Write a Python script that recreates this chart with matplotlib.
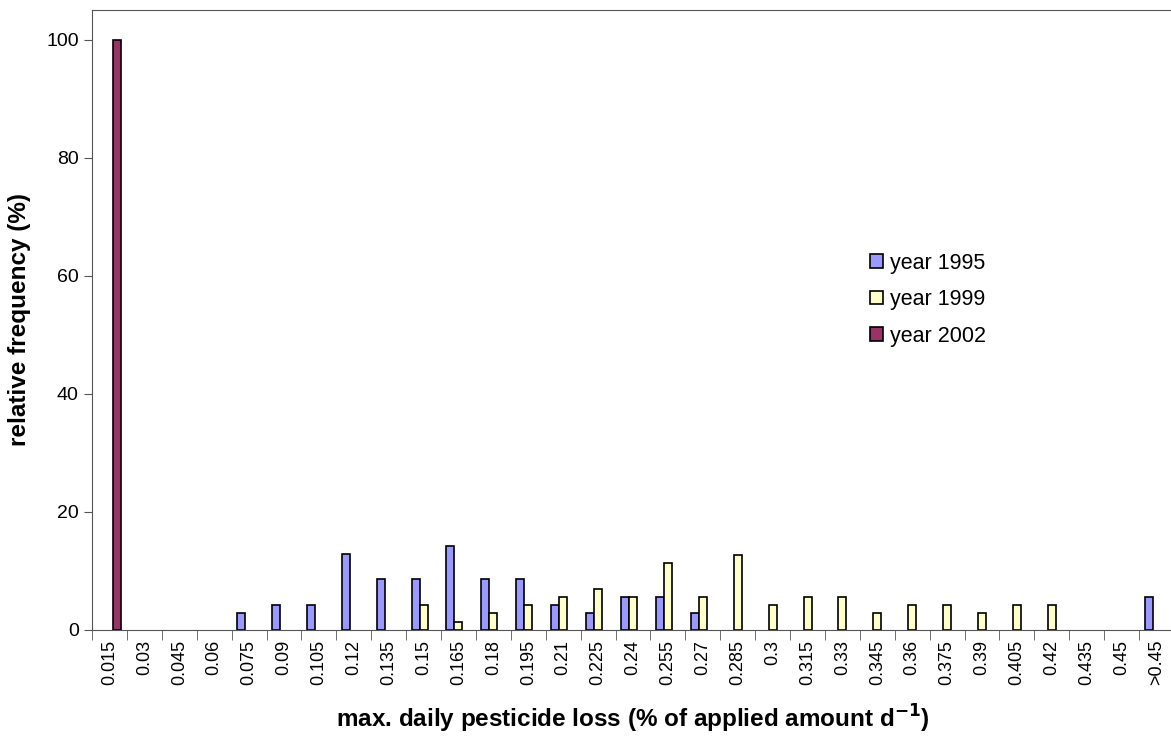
import numpy as np
import matplotlib.pyplot as plt

plt.rcParams['font.family'] = ['Liberation Sans', 'DejaVu Sans']

categories = ['0.015', '0.03', '0.045', '0.06', '0.075', '0.09', '0.105', '0.12',
              '0.135', '0.15', '0.165', '0.18', '0.195', '0.21', '0.225', '0.24',
              '0.255', '0.27', '0.285', '0.3', '0.315', '0.33', '0.345', '0.36',
              '0.375', '0.39', '0.405', '0.42', '0.435', '0.45', '>0.45']

y1995 = [0, 0, 0, 0, 2.8, 4.2, 4.2, 12.8, 8.6, 8.6, 14.3, 8.6, 8.6, 4.2, 2.8, 5.6,
         5.6, 2.8, 0, 0, 0, 0, 0, 0, 0, 0, 0, 0, 0, 0, 5.6]
y1999 = [0, 0, 0, 0, 0, 0, 0, 0, 0, 4.2, 1.4, 2.8, 4.2, 5.6, 7.0, 5.6,
         11.3, 5.6, 12.7, 4.2, 5.6, 5.6, 2.8, 4.2, 4.2, 2.8, 4.2, 4.2, 0, 0, 0]
y2002 = [100] + [0] * 30

series = [('year 1995', y1995, '#9999FF'),
          ('year 1999', y1999, '#FFFFCC'),
          ('year 2002', y2002, '#993366')]

fig = plt.figure(figsize=(11.71, 7.38), dpi=100)
ax = fig.add_axes([92/1171, 108/738, 1082/1171, 620/738])

x = np.arange(len(categories))
w = 0.23
for i, (name, vals, col) in enumerate(series):
    vals = np.array(vals, dtype=float)
    # Excel skips drawing zero bars
    mask = vals > 0
    ax.bar(x[mask] + (i - 1) * w, vals[mask], w, color=col, edgecolor='black',
           linewidth=1.2, label=name)

ax.set_xlim(-0.5, len(categories) - 0.5)
ax.set_ylim(0, 105)
ax.set_yticks([0, 20, 40, 60, 80, 100])
ax.set_xticks(x)
ax.set_xticklabels(categories, rotation=90, fontsize=13)
ax.tick_params(axis='x', length=0, pad=7)
ax.set_xticks(np.arange(len(categories) + 1) - 0.5, minor=True)
ax.tick_params(axis='x', which='minor', length=7, color='#555555')
ax.tick_params(axis='y', labelsize=14, length=6, color='#555555')

ax.spines['right'].set_visible(False)
ax.spines['top'].set_color('#555555')
ax.spines['left'].set_color('#555555')
ax.spines['bottom'].set_color('#555555')

ax.set_ylabel('relative frequency (%)', fontsize=17.5, fontweight='bold', labelpad=11)
ax.set_xlabel('max. daily pesticide loss (% of applied amount d$^{\\mathbf{-1}}$)',
              fontsize=17.5, fontweight='bold', labelpad=13)

ax.legend(loc='upper left', bbox_to_anchor=(0.701, 0.64), frameon=False,
          fontsize=15.5, handlelength=0.6, handleheight=0.6, handletextpad=0.35,
          labelspacing=0.72)

fig.savefig('out.png', dpi=100)
